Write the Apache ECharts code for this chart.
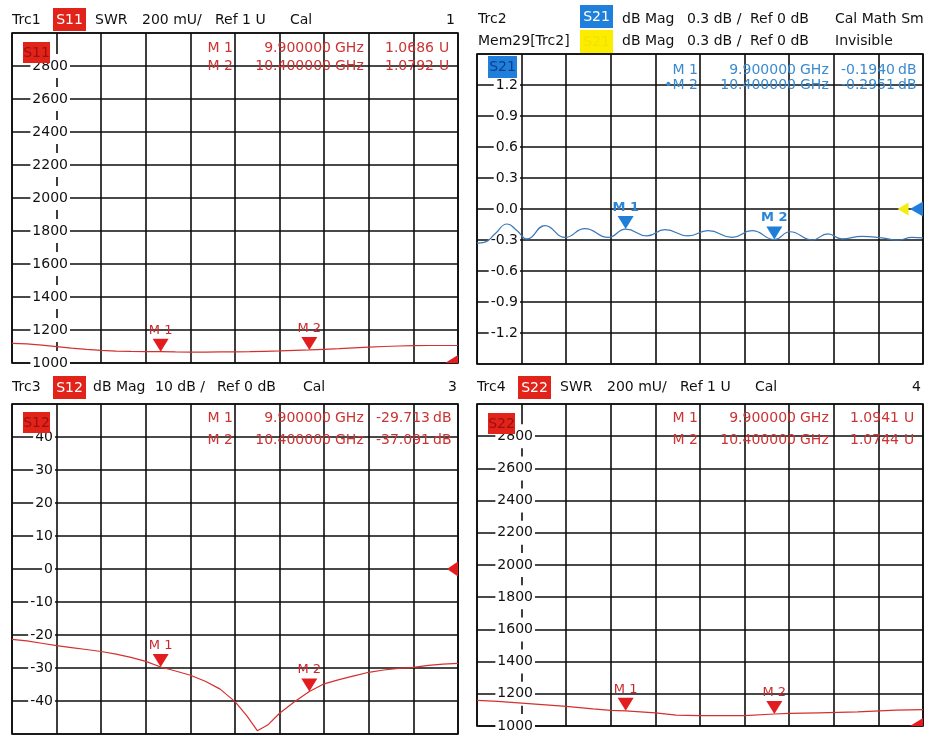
<!DOCTYPE html>
<html><head><meta charset="utf-8">
<script src="https://cdn.jsdelivr.net/npm/echarts@6/dist/echarts.min.js"></script>
<style>html,body{margin:0;padding:0;background:#fff}#c{width:931px;height:738px}</style>
</head><body><div id="c"></div>
<script>
// ---------------- data ----------------
const FREQ_START = 9.4, FREQ_STOP = 10.9; // GHz
const markerNames = ['M 1', 'M 2'];
const markerFreqs = [9.9, 10.4];

// Trc1  S11 SWR (mU)
const s11Freq = [9.40,9.45,9.50,9.55,9.60,9.65,9.70,9.75,9.80,9.85,9.90,9.95,10.00,10.05,10.10,10.15,10.20,10.25,10.30,10.35,10.40,10.45,10.50,10.55,10.60,10.65,10.70,10.75,10.80,10.85,10.90];
const s11Swr  = [1119,1116,1108,1099,1090,1082,1076,1072,1070,1069,1068.6,1067,1066,1066,1067,1068,1069,1071,1073,1076,1079.2,1083,1087,1092,1096,1100,1103,1105,1106,1106,1106];
const s11Markers = [1068.6, 1079.2];

// Trc2  S21 dB Mag
const s21Freq = [9.400,9.427,9.461,9.501,9.535,9.568,9.629,9.696,9.763,9.841,9.900,9.972,10.032,10.110,10.177,10.258,10.325,10.400,10.453,10.527,10.580,10.627,10.695,10.762,10.816,10.863,10.900];
const s21dB   = [-0.33,-0.32,-0.24,-0.145,-0.21,-0.29,-0.16,-0.275,-0.19,-0.275,-0.194,-0.26,-0.20,-0.26,-0.21,-0.275,-0.21,-0.295,-0.22,-0.30,-0.24,-0.29,-0.265,-0.28,-0.30,-0.275,-0.28];
const s21Markers = [-0.1940, -0.2951];

// Trc3  S12 dB Mag
const s12Freq = [9.40,9.45,9.50,9.55,9.60,9.65,9.70,9.75,9.80,9.85,9.90,9.95,10.00,10.05,10.10,10.15,10.19,10.225,10.26,10.30,10.35,10.40,10.45,10.50,10.55,10.60,10.65,10.70,10.75,10.80,10.85,10.90];
const s12dB   = [-21.3,-21.8,-22.5,-23.2,-23.8,-24.4,-25.0,-25.8,-26.8,-28.0,-29.7,-30.9,-32.2,-34.0,-36.4,-40.2,-44.5,-49.0,-47.3,-43.7,-40.2,-37.1,-34.8,-33.5,-32.4,-31.3,-30.6,-30.1,-29.8,-29.2,-28.8,-28.6];
const s12Markers = [-29.713, -37.091];

// Trc4  S22 SWR (mU)
const s22Freq = [9.40,9.47,9.585,9.70,9.79,9.85,9.90,10.00,10.07,10.15,10.30,10.40,10.45,10.55,10.68,10.81,10.90];
const s22Swr  = [1159,1153,1138,1122,1106,1097,1094.1,1082,1068,1065,1065,1074.4,1078,1082,1088,1098,1102];
const s22Markers = [1094.1, 1074.4];

const refLevels = [1000, 0, 0, 1000];

// ---------------- layout / build ----------------
const FONT = '"DejaVu Sans", "Liberation Sans", sans-serif';
const RED = '#e21c1f', BLUE = '#1f7fd8';
const panels = [
  {gx:12,  gy:33,  gh:330, freq:s11Freq, vals:s11Swr, mk:s11Markers, color:RED,  lab:'#c8282c', line:'#d43030', ymin:1000, ymax:3000, step:200, labRight:56, tall:true,  showMin:true,
   fmt:v=>String(Math.round(v)), read:v=>(v/1000).toFixed(4), ref:'corner'},
  {gx:477, gy:54,  gh:310, freq:s21Freq, vals:s21dB, mk:s21Markers, color:BLUE, lab:'#2a86d6', line:'#3a78b8', ymin:-1.5, ymax:1.5, step:0.3, labRight:41, tall:false, showMin:false,
   fmt:v=>(Math.abs(v)<1e-9?0:v).toFixed(1), read:v=>v.toFixed(4), ref:'dual'},
  {gx:12,  gy:404, gh:330, freq:s12Freq, vals:s12dB, mk:s12Markers, color:RED,  lab:'#c8282c', line:'#d43030', ymin:-50, ymax:50, step:10, labRight:41, tall:false, showMin:false,
   fmt:v=>String(Math.round(v)), read:v=>v.toFixed(3), ref:'mid'},
  {gx:477, gy:404, gh:330, freq:s22Freq, vals:s22Swr, mk:s22Markers, color:RED,  lab:'#c8282c', line:'#d43030', ymin:1000, ymax:3000, step:200, labRight:56, tall:true,  showMin:true,
   fmt:v=>String(Math.round(v)), read:v=>(v/1000).toFixed(4), ref:'corner'}
];

const grid = [], xAxis = [], yAxis = [], series = [];
const GL = {color:'#0d0d0d', width:1.6};
panels.forEach((p, i) => {
  grid.push({left:p.gx, top:p.gy, width:446, height:p.gh, show:true, borderColor:'#0d0d0d', borderWidth:1.6});
  xAxis.push({gridIndex:i, type:'value', min:FREQ_START, max:FREQ_STOP, show:false});
  xAxis.push({gridIndex:i, type:'value', min:0, max:10, interval:1, position:'top', z:0,
    axisLine:{show:false}, axisTick:{show:false}, axisLabel:{show:false}, splitLine:{show:true, lineStyle:GL}});
  yAxis.push({gridIndex:i, type:'value', min:p.ymin, max:p.ymax, interval:p.step, z:0,
    axisLine:{show:false}, axisTick:{show:false}, axisLabel:{show:false}, splitLine:{show:true, lineStyle:GL}});
  yAxis.push({gridIndex:i, type:'value', min:p.ymin, max:p.ymax, interval:p.step, position:'left', offset:-(p.labRight+2), z:1,
    axisLine:{show:false}, axisTick:{show:false}, splitLine:{show:false},
    axisLabel:{show:true, margin:0, showMinLabel:p.showMin, showMaxLabel:false, formatter:p.fmt,
      color:'#111', fontSize:14, fontFamily:FONT, backgroundColor:'#fff', padding:p.tall?[5,2]:[0,2]}});
  const xi = 2*i, yi = 2*i;
  series.push({type:'line', xAxisIndex:xi, yAxisIndex:yi, data:p.freq.map((f,k)=>[f,p.vals[k]]),
    showSymbol:false, smooth:i===1?0.5:false, lineStyle:{color:p.line, width:1.2}, z:3, silent:true});
  series.push({type:'scatter', xAxisIndex:xi, yAxisIndex:yi, data:markerFreqs.map((f,k)=>[f,p.mk[k]]),
    symbol:'path://M0,0 L16,0 L8,13 Z', symbolSize:[16,13], symbolOffset:[0,-6.5], itemStyle:{color:p.color, opacity:1}, z:4,
    label:{show:true, position:'top', distance:2, formatter:q=>markerNames[q.dataIndex], color:p.lab,
      fontSize:13, fontFamily:FONT, fontWeight:i===1?'bold':'normal'}});
  if (p.ref === 'corner') {
    series.push({type:'scatter', xAxisIndex:xi, yAxisIndex:yi, data:[[FREQ_STOP, refLevels[i]]],
      symbol:'path://M0,8 L13,0 L13,8 Z', symbolSize:[13,8], symbolOffset:[-6.5,-4], itemStyle:{color:RED, opacity:1}, z:5});
  } else if (p.ref === 'mid') {
    series.push({type:'scatter', xAxisIndex:xi, yAxisIndex:yi, data:[[FREQ_STOP, refLevels[i]]],
      symbol:'path://M0,7.5 L11,0 L11,15 Z', symbolSize:[11,15], symbolOffset:[-5.5,0], itemStyle:{color:RED, opacity:1}, z:5});
  } else {
    series.push({type:'scatter', xAxisIndex:xi, yAxisIndex:yi, data:[[FREQ_STOP, refLevels[i]]],
      symbol:'path://M0,7.5 L11,0 L11,15 Z', symbolSize:[11,13], symbolOffset:[-20,0], itemStyle:{color:'#f2ee10', opacity:1}, z:5});
    series.push({type:'scatter', xAxisIndex:xi, yAxisIndex:yi, data:[[FREQ_STOP, refLevels[i]]],
      symbol:'path://M0,7.5 L13,0 L13,15 Z', symbolSize:[13,15], symbolOffset:[-6.5,0], itemStyle:{color:'#1f7fdb', opacity:1}, z:5});
  }
});

// ---------------- header texts ----------------
const G = [];
function txt(x, y, s, fill, align, weight) {
  G.push({type:'text', x:x, y:y, z:10, silent:true,
    style:{text:s, fill:fill||'#111', font:(weight||'normal')+' 14px '+FONT, align:align||'left', verticalAlign:'middle'}});
}
function box(x, y, w, h, fill) { G.push({type:'rect', z:9, silent:true, shape:{x:x, y:y, width:w, height:h}, style:{fill:fill}}); }
function tag(x, y, w, h, fill, s, tc) { box(x, y, w, h, fill); txt(x + w/2, y + h/2 + 0.5, s, tc, 'center'); }

// Trc1
txt(12, 20, 'Trc1'); tag(53, 8, 33, 23, '#e2231a', 'S11', '#fff');
txt(95, 20, 'SWR'); txt(142, 20, '200 mU/'); txt(215, 20, 'Ref 1 U'); txt(290, 20, 'Cal'); txt(455, 20, '1', '#111', 'right');
// Trc2
txt(478, 19, 'Trc2'); tag(580, 5, 33, 23, '#1f7fdb', 'S21', '#fff');
txt(622, 19, 'dB Mag'); txt(687, 19, '0.3 dB /'); txt(750, 19, 'Ref 0 dB'); txt(835, 19, 'Cal Math Sm');
txt(478, 41, 'Mem29[Trc2]'); tag(580, 30, 33, 23, '#fbec00', 'S21', '#f3e200');
txt(622, 41, 'dB Mag'); txt(687, 41, '0.3 dB /'); txt(750, 41, 'Ref 0 dB'); txt(835, 41, 'Invisible');
// Trc3
txt(12, 387, 'Trc3'); tag(53, 376, 33, 23, '#e2231a', 'S12', '#fff');
txt(93, 387, 'dB Mag'); txt(155, 387, '10 dB /'); txt(217, 387, 'Ref 0 dB'); txt(303, 387, 'Cal'); txt(457, 387, '3', '#111', 'right');
// Trc4
txt(477, 387, 'Trc4'); tag(518, 376, 33, 23, '#e2231a', 'S22', '#fff');
txt(560, 387, 'SWR'); txt(607, 387, '200 mU/'); txt(680, 387, 'Ref 1 U'); txt(755, 387, 'Cal'); txt(921, 387, '4', '#111', 'right');

// inner trace tags
tag(23, 42, 27, 21, '#e2231a', 'S11', '#9c0f0f');
tag(488, 56, 29, 22, '#1f7fdb', 'S21', '#0d3f8a');
tag(23, 412, 27, 21, '#e2231a', 'S12', '#9c0f0f');
tag(488, 413, 27, 21, '#e2231a', 'S22', '#9c0f0f');

// marker readouts
const readCols = [
  {ox:0,   rows:[48, 66],   unit:'U',  c:'#cc3333'},
  {ox:465, rows:[70, 85],   unit:'dB', c:'#3a8ad0'},
  {ox:0,   rows:[418, 440], unit:'dB', c:'#cc3333'},
  {ox:465, rows:[418, 440], unit:'U',  c:'#cc3333'}
];
panels.forEach((p, i) => {
  const r = readCols[i];
  markerFreqs.forEach((f, k) => {
    const y = r.rows[k];
    const name = (i === 1 && k === 1 ? '\u2022' : '') + markerNames[k];
    txt(r.ox + 233, y, name, r.c, 'right');
    txt(r.ox + 331, y, f.toFixed(6), r.c, 'right');
    txt(r.ox + 335, y, 'GHz', r.c, 'left');
    if (r.unit === 'U') { txt(r.ox + 434, y, p.read(p.mk[k]), r.c, 'right'); txt(r.ox + 439, y, 'U', r.c, 'left'); }
    else { txt(r.ox + 430, y, p.read(p.mk[k]), r.c, 'right'); txt(r.ox + 433, y, 'dB', r.c, 'left'); }
  });
});

const chart = echarts.init(document.getElementById('c'), null, {renderer:'canvas'});
chart.setOption({animation:false, backgroundColor:'#fff', grid, xAxis, yAxis, series, graphic:{elements:G}});
</script></body></html>
